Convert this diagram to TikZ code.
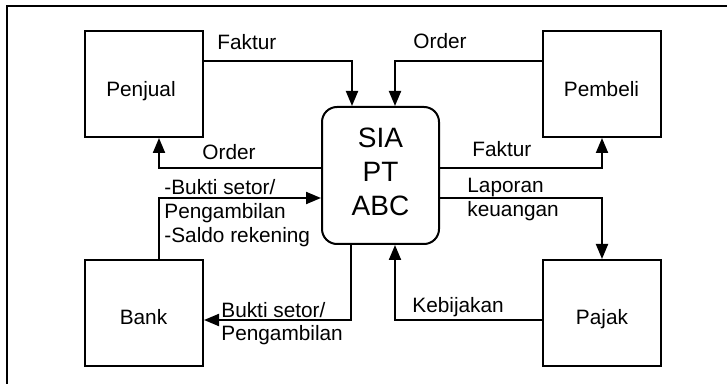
\documentclass[tikz,border=0pt]{standalone}
\usepackage{fontspec}
\setmainfont{Liberation Sans}
\usetikzlibrary{arrows.meta}
\begin{document}
\begin{tikzpicture}[x=0.5pt,y=-0.5pt,
  ent/.style={draw, line width=1pt, minimum width=59pt, minimum height=53pt, inner sep=0pt},
  sys/.style={draw, line width=1pt, rounded corners=7.5pt, minimum width=58.5pt, minimum height=68.5pt, inner sep=0pt},
  flow/.style={line width=1pt, -{Triangle[width=6pt,length=7.5pt]}},
  lbl/.style={anchor=base west, inner sep=0pt, font=\fontsize{10.4}{12}\selectfont},
  entname/.style={anchor=base, inner sep=0pt, font=\fontsize{10.4}{12}\selectfont}
]
\useasboundingbox (0,0) rectangle (727,384);
% frame
\draw[line width=1pt] (7,384) -- (7,6) -- (727,6);

% external entities
\node[ent] (penjual) at (144,84) {};
\node[ent] (pembeli) at (602,84) {};
\node[ent] (bank) at (144,313) {};
\node[ent] (pajak) at (602,313) {};
\node[entname] (tpenjual) at (141,97) {Penjual};
\node[entname] (tpembeli) at (601.5,97) {Pembeli};
\node[entname] (tbank) at (143.5,325) {Bank};
\node[entname] (tpajak) at (602,325) {Pajak};

% central system
\node[sys] (sia) at (380.5,175.5) {};
\node[align=center, inner sep=0pt, font=\fontsize{14}{17}\selectfont] (siatext) at (380.5,172) {SIA\\PT\\ABC};

% bends of the flows
\coordinate (c1) at (352,61);
\coordinate (c2) at (395,61);
\coordinate (c3) at (159,168);
\coordinate (c4) at (602,168);
\coordinate (c5) at (159,198);
\coordinate (c6) at (602,198);
\coordinate (c7) at (351,320);
\coordinate (c8) at (395,320);

% flows
\draw[flow] (penjual.east |- c1) -| (sia.north -| c1);
\draw[flow] (pembeli.west |- c2) -| (sia.north -| c2);
\draw[flow] (sia.west |- c3) -| (penjual.south -| c3);
\draw[flow] (sia.east |- c4) -| (pembeli.south);
\draw[flow] (bank.north -| c5) |- (sia.west |- c5);
\draw[flow] (sia.east |- c6) -| (pajak.north);
\draw[flow] (sia.south -| c7) |- (bank.east |- c7);
\draw[flow] (pajak.west |- c8) -| (sia.south -| c8);

% flow labels
\node[lbl] (l1) at (217,50) {Faktur};
\node[lbl] (l2) at (413,49) {Order};
\node[lbl] (l3) at (202,160) {Order};
\node[lbl] (l4a) at (164,195) {-Bukti setor/};
\node[lbl] (l4b) at (164,219) {Pengambilan};
\node[lbl] (l4c) at (164,243) {-Saldo rekening};
\node[lbl] (l5) at (472,157) {Faktur};
\node[lbl] (l6a) at (467,193) {Laporan};
\node[lbl] (l6b) at (467,217) {keuangan};
\node[lbl] (l7a) at (221,317) {Bukti setor/};
\node[lbl] (l7b) at (221,341) {Pengambilan};
\node[lbl] (l8) at (412,313) {Kebijakan};
\end{tikzpicture}
\end{document}
